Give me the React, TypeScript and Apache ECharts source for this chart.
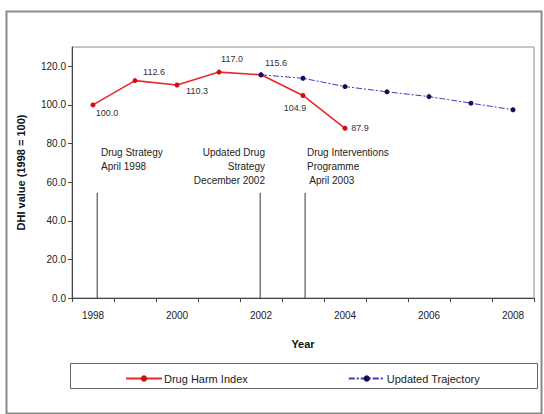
import React, { useEffect, useRef } from "react";
import * as echarts from "echarts";

const years = ["1998", "1999", "2000", "2001", "2002", "2003", "2004", "2005", "2006", "2007", "2008"];
const drugHarmIndex: (number | null)[] = [100.0, 112.6, 110.3, 117.0, 115.6, 104.9, 87.9, null, null, null, null];
const updatedTrajectory: (number | null)[] = [null, null, null, null, 115.6, 113.8, 109.5, 106.8, 104.3, 100.9, 97.5];
const yTicks = { min: 0, max: 130, interval: 20 };
const milestoneYears = [1998.1, 2001.98, 2003.05];
const milestoneHeight = 54.5;
const milestoneTexts = ["Drug Strategy\nApril 1998", "Updated Drug\nStrategy\nDecember 2002", "Drug Interventions\nProgramme\n April 2003"];

// label offsets (style only)
const dhiLabelOffsets: [number, number][] = [[14, 8], [19, -9], [20, 6], [13, -13], [15, -12], [-8, 13], [15, 0]];

const FONT = "Liberation Sans, Arial, sans-serif";

export default function App() {
  const ref = useRef<HTMLDivElement>(null);
  useEffect(() => {
    if (!ref.current) return;
    const chart = echarts.init(ref.current, undefined, { renderer: "svg" });
    const dhiData = drugHarmIndex.map((v, i) =>
      v == null
        ? null
        : {
            value: v,
            label: {
              show: true,
              position: "inside",
              offset: dhiLabelOffsets[i],
              formatter: (p: any) => Number(p.value).toFixed(1),
              fontSize: 9,
              color: "#333",
              fontFamily: FONT,
            },
          }
    );
    const milestoneSeries = milestoneYears.map((yr, i) => ({
      type: "line",
      name: "m" + i,
      xAxisIndex: 1,
      yAxisIndex: 0,
      data: [[yr, 0], [yr, milestoneHeight]],
      symbol: "none",
      lineStyle: { color: "#333", width: 1 },
      silent: true,
      z: 1,
    }));
    chart.setOption({
      animation: false,
      textStyle: { fontFamily: FONT },
      grid: {
        left: 72,
        right: 10,
        top: 47,
        bottom: 116,
        show: true,
        borderColor: "#8c8c8c",
        borderWidth: 1,
        backgroundColor: "#fff",
      },
      xAxis: [
        {
          type: "category",
          data: years,
          boundaryGap: true,
          name: "Year",
          nameLocation: "middle",
          nameGap: 40,
          nameTextStyle: { fontSize: 11, fontWeight: "bold", color: "#111", fontFamily: FONT },
          axisLine: { lineStyle: { color: "#444", width: 1 } },
          axisTick: { show: true, interval: 0, length: 4, lineStyle: { color: "#444" } },
          axisLabel: { interval: 1, margin: 12, fontSize: 10, color: "#222", fontFamily: FONT },
          splitLine: { show: false },
        },
        {
          type: "value",
          min: 1997.5,
          max: 2008.5,
          show: false,
        },
      ],
      yAxis: {
        type: "value",
        min: yTicks.min,
        max: yTicks.max,
        interval: yTicks.interval,
        name: "DHI value (1998 = 100)",
        nameLocation: "middle",
        nameGap: 46,
        nameRotate: 90,
        nameTextStyle: { fontSize: 11, fontWeight: "bold", color: "#111", fontFamily: FONT },
        axisLine: { show: true, lineStyle: { color: "#444", width: 1 } },
        axisTick: { show: true, length: 4, lineStyle: { color: "#444" } },
        axisLabel: {
          margin: 6,
          fontSize: 10,
          color: "#222",
          fontFamily: FONT,
          showMaxLabel: false,
          formatter: (v: number) => v.toFixed(1),
        },
        splitLine: { show: false },
      },
      legend: {
        data: ["Drug Harm Index", "Updated Trajectory"],
        left: 120,
        top: 368,
        itemWidth: 36,
        itemHeight: 8,
        itemGap: 100,
        textStyle: { fontSize: 11, color: "#222", fontFamily: FONT, padding: [0, 0, 0, -3] },
      },
      graphic: [
        {
          type: "rect",
          left: 4,
          top: 9,
          shape: { width: 535, height: 402 },
          style: { fill: "none", stroke: "#8a8a8a", lineWidth: 2 },
          silent: true,
          z: -10,
        },
        {
          type: "rect",
          left: 68,
          top: 361,
          shape: { width: 467, height: 25 },
          style: { fill: "none", stroke: "#666", lineWidth: 1 },
          silent: true,
        },
        {
          type: "text",
          x: 101,
          y: 145,
          style: { text: milestoneTexts[0], fontSize: 10, lineHeight: 14, fill: "#222", fontFamily: FONT, align: "left", verticalAlign: "top" },
        },
        {
          type: "text",
          x: 265,
          y: 145,
          style: { text: milestoneTexts[1], fontSize: 10, lineHeight: 14, fill: "#222", align: "right", verticalAlign: "top", fontFamily: FONT },
        },
        {
          type: "text",
          x: 307,
          y: 145,
          style: { text: milestoneTexts[2], fontSize: 10, lineHeight: 14, fill: "#222", fontFamily: FONT, align: "left", verticalAlign: "top" },
        },
      ],
      series: [
        ...milestoneSeries,
        {
          type: "line",
          name: "Drug Harm Index",
          data: dhiData,
          symbol: "circle",
          symbolSize: 5,
          itemStyle: { color: "#d01010" },
          lineStyle: { color: "#e8282e", width: 1.6 },
          z: 3,
        },
        {
          type: "line",
          name: "Updated Trajectory",
          data: updatedTrajectory,
          symbol: "circle",
          symbolSize: 5,
          itemStyle: { color: "#10105a" },
          lineStyle: { color: "#3b3bc4", width: 1, type: [6, 2, 2, 2] },
          z: 4,
        },
      ],
    });
    return () => chart.dispose();
  }, []);
  return (
    <div
      ref={ref}
      style={{ position: "absolute", left: 0, top: 0, width: 544, height: 414, background: "#fff" }}
    />
  );
}
